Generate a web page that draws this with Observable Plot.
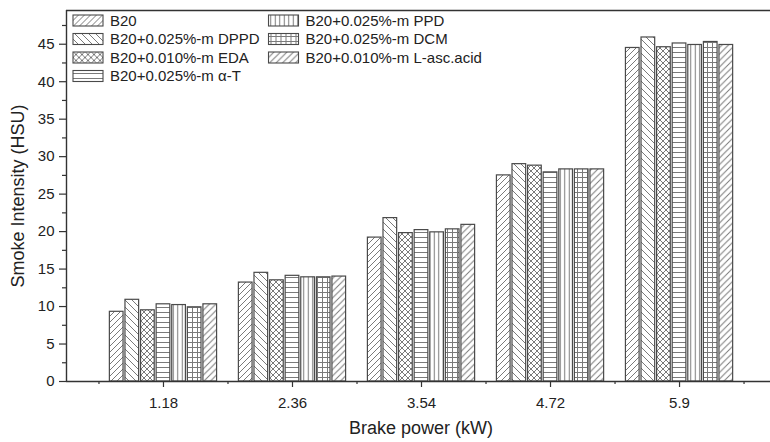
<!DOCTYPE html>
<html>
<head>
<meta charset="utf-8">
<script src="https://cdn.jsdelivr.net/npm/d3@7"></script>
<script src="https://cdn.jsdelivr.net/npm/@observablehq/plot@0.6"></script>
<style>
  html, body { margin: 0; padding: 0; background: #fff; }
  #chart { width: 770px; height: 442px; overflow: hidden; }
  svg { font-family: "Liberation Sans", Arial, sans-serif; }
</style>
</head>
<body>
<div id="chart"></div>
<script>
// ---- data ----
const powers = [1.18, 2.36, 3.54, 4.72, 5.9];
const minorPowers = [0.59, 1.77, 2.95, 4.13, 5.31, 6.49];
const seriesNames = [
  "B20",
  "B20+0.025%-m DPPD",
  "B20+0.010%-m EDA",
  "B20+0.025%-m \u03b1-T",
  "B20+0.025%-m PPD",
  "B20+0.025%-m DCM",
  "B20+0.010%-m L-asc.acid"
];
const B20     = [9.3, 13.2, 19.2, 27.5, 44.5];
const DPPD    = [10.9, 14.5, 21.8, 29.0, 45.9];
const EDA     = [9.5, 13.5, 19.8, 28.8, 44.6];
const alphaT  = [10.3, 14.1, 20.2, 27.9, 45.1];
const PPD     = [10.2, 13.9, 19.9, 28.3, 44.9];
const DCM     = [9.9, 13.9, 20.3, 28.3, 45.3];
const Lasc    = [10.3, 14.0, 20.9, 28.3, 44.9];
const seriesValues = [B20, DPPD, EDA, alphaT, PPD, DCM, Lasc];
const yTicks = [0, 5, 10, 15, 20, 25, 30, 35, 40, 45];
const yMinor = [2.5, 7.5, 12.5, 17.5, 22.5, 27.5, 32.5, 37.5, 42.5, 47.5];

// table built from the arrays
const rows = [];
seriesNames.forEach((s, i) => powers.forEach((p, j) => rows.push({series: s, idx: i, power: p, value: seriesValues[i][j]})));

const pitch = 0.1426;   // bar pitch in kW units
const bw = 0.125;       // bar width in kW units
const patIds = seriesNames.map((_, i) => `url(#pat${i})`);

const font = "Liberation Sans, Arial, sans-serif";

const plot = Plot.plot({
  width: 770,
  height: 442,
  marginTop: 10,
  marginBottom: 61,
  marginLeft: 66,
  marginRight: 0,
  style: {fontFamily: font, fontSize: "15px", color: "#222", background: "#fff"},
  x: {domain: [0.293, 6.732], axis: null},
  y: {domain: [0, 49.5], axis: null},
  color: {type: "ordinal", domain: seriesNames, range: patIds},
  marks: [
    Plot.rectY(rows, {
      x1: d => d.power + (d.idx - 3) * pitch - bw / 2,
      x2: d => d.power + (d.idx - 3) * pitch + bw / 2,
      y1: 0,
      y2: "value",
      fill: "series",
      stroke: "#4a4a4a",
      strokeWidth: 1.2
    }),
    // frame: top, left, bottom
    Plot.ruleY([49.5], {stroke: "#333", strokeWidth: 1.4}),
    Plot.ruleX([0.293], {stroke: "#333", strokeWidth: 1.4}),
    Plot.ruleY([0], {stroke: "#333", strokeWidth: 1.4}),
    // y axis
    Plot.axisY(yTicks, {tickSize: 7, tickPadding: 5, stroke: "#333", strokeWidth: 1.2, fontSize: 15, fill: "#222", label: null, tickFormat: d => String(d)}),
    Plot.axisY(yMinor, {tickSize: 4, text: null, stroke: "#333", strokeWidth: 1.2, label: null}),
    // x axis
    Plot.axisX(powers, {tickSize: 6, tickPadding: 10, stroke: "#333", strokeWidth: 1.2, fontSize: 15, fill: "#222", label: null, tickFormat: d => String(d)}),
    Plot.axisX(minorPowers.filter(v => v < 6.73), {tickSize: 3, text: null, stroke: "#333", strokeWidth: 1.2, label: null})
  ]
});

document.getElementById("chart").appendChild(plot);

// ---- hatch patterns ----
const svg = d3.select(plot);
const defs = svg.insert("defs", ":first-child");
const hatch = "#7a7a7a";
function pat(id, size, draw) {
  const p = defs.append("pattern").attr("id", id).attr("patternUnits", "userSpaceOnUse")
    .attr("width", size).attr("height", size);
  p.append("rect").attr("width", size).attr("height", size).attr("fill", "#fff");
  draw(p, size);
}
function line(p, x1, y1, x2, y2, w = 1) {
  p.append("line").attr("x1", x1).attr("y1", y1).attr("x2", x2).attr("y2", y2)
    .attr("stroke", hatch).attr("stroke-width", w).attr("stroke-linecap", "square");
}
// 0: forward diagonal
pat("pat0", 6, (p, s) => { line(p, 0, s, s, 0); line(p, -1, 1, 1, -1); line(p, s - 1, s + 1, s + 1, s - 1); });
// 1: back diagonal
pat("pat1", 7, (p, s) => { line(p, 0, 0, s, s); line(p, -1, s - 1, 1, s + 1); line(p, s - 1, -1, s + 1, 1); });
// 2: diagonal crosshatch
pat("pat2", 6, (p, s) => { line(p, 0, s, s, 0); line(p, 0, 0, s, s); });
// 3: horizontal
pat("pat3", 5, (p, s) => { line(p, 0, 2.5, s, 2.5); });
// 4: vertical
pat("pat4", 4.5, (p, s) => { line(p, 2.25, 0, 2.25, s); });
// 5: grid
pat("pat5", 5, (p, s) => { line(p, 0, 2.5, s, 2.5); line(p, 2.5, 0, 2.5, s); });
// 6: forward diagonal (slightly wider)
pat("pat6", 6.5, (p, s) => { line(p, 0, s, s, 0); line(p, -1, 1, 1, -1); line(p, s - 1, s + 1, s + 1, s - 1); });

// ---- axis titles ----
svg.append("text").attr("x", 421).attr("y", 434).attr("text-anchor", "middle")
  .attr("font-size", 18).attr("fill", "#222").text("Brake power (kW)");
svg.append("text").attr("transform", "translate(24,196) rotate(-90)").attr("text-anchor", "middle")
  .attr("font-size", 18).attr("fill", "#222").text("Smoke Intensity (HSU)");

// ---- legend (inside plot, top-left) ----
const lg = svg.append("g").attr("text-anchor", "start");
const rowY = [20.5, 39, 57.5, 76];
seriesNames.forEach((s, i) => {
  const col = i < 4 ? 0 : 1;
  const r = i < 4 ? i : i - 4;
  const sx = col === 0 ? 73 : 268.5;
  const g = lg.append("g").attr("transform", `translate(${sx},${rowY[r]})`);
  g.append("rect").attr("x", 0).attr("y", -5.5).attr("width", 30).attr("height", 11)
    .attr("fill", patIds[i]).attr("stroke", "#4a4a4a").attr("stroke-width", 1.1);
  g.append("text").attr("x", 37).attr("y", 5.3).attr("text-anchor", "start")
    .attr("font-size", 15).attr("fill", "#222").text(s);
});
</script>
</body>
</html>
